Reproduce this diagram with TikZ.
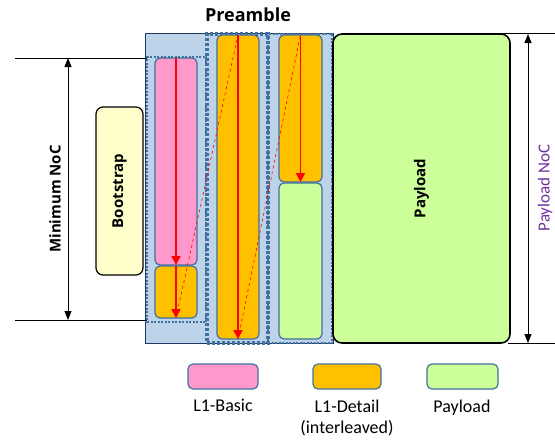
\documentclass[tikz,border=0pt]{standalone}
\usepackage{fontspec}
\setmainfont{Carlito}
\newfontfamily\boldf{Open Sans}
\usetikzlibrary{arrows.meta}
\definecolor{bgblue}{HTML}{BDD3EA}
\definecolor{navy}{HTML}{1F3864}
\definecolor{dashblue}{HTML}{41719C}
\definecolor{pinkc}{HTML}{FF99CC}
\definecolor{orangec}{HTML}{FFC000}
\definecolor{greenc}{HTML}{CCFF99}
\definecolor{yellowc}{HTML}{FFFFCC}
\definecolor{purplec}{HTML}{7030A0}
\tikzset{
  cell/.style={draw=dashblue, line width=1.2pt, rounded corners=5pt, inner sep=0pt, outer sep=0pt, anchor=north west},
  bigbox/.style={draw=black, line width=1.6pt, rounded corners=9pt, inner sep=0pt, outer sep=0pt, anchor=north west},
  flow/.style={draw=red, line width=1.8pt, -{Triangle[length=9pt,width=9pt]}},
  skip/.style={draw=red, line width=0.6pt, dashed},
  dim/.style={draw=black, line width=0.9pt, {Triangle[length=9pt,width=7pt]}-{Triangle[length=9pt,width=7pt]}},
  rule/.style={draw=black, line width=0.9pt},
  frame/.style={draw=dashblue, line width=1.6pt, dash pattern=on 2pt off 1.5pt},
  thickframe/.style={draw=dashblue, line width=3.2pt, dash pattern=on 3pt off 2pt},
  boldlabel/.style={font=\boldf\bfseries\fontsize{15}{17}\selectfont},
  legtext/.style={font=\fontsize{18}{21}\selectfont, align=center, anchor=north}
}
\begin{document}
\begin{tikzpicture}[x=1pt,y=-1pt]
\useasboundingbox (0,0) rectangle (555,442);
% preamble background
\node[draw=navy, fill=bgblue, line width=1pt, inner sep=0pt, outer sep=0pt, anchor=north west, minimum width=188pt, minimum height=310pt] (pre) at (145,33) {};
\node[font=\boldf\bfseries\fontsize{18}{20}\selectfont] (pretitle) at (248,15) {Preamble};
% frames
\node[frame, inner sep=0pt, outer sep=0pt, anchor=north west, minimum width=59pt, minimum height=265pt] (f1) at (147,57) {};
\node[thickframe, inner sep=0pt, outer sep=0pt, anchor=north west, minimum width=61pt, minimum height=309pt] (f2) at (207,34) {};
\node[frame, inner sep=0pt, outer sep=0pt, anchor=north west, minimum width=64pt, minimum height=309pt] (f3) at (268,34) {};
% cells
\node[cell, fill=pinkc, minimum width=42pt, minimum height=207pt] (pink) at (155,58) {};
\node[cell, fill=orangec, minimum width=42pt, minimum height=52pt] (o1) at (155,266) {};
\node[cell, fill=orangec, minimum width=42pt, minimum height=304pt] (o2) at (217,35) {};
\node[cell, fill=orangec, minimum width=43pt, minimum height=147pt] (o3) at (279,35) {};
\node[cell, fill=greenc, minimum width=43pt, minimum height=156pt] (g3) at (279,183) {};
% payload and bootstrap
\node[bigbox, fill=greenc, minimum width=177pt, minimum height=309pt] (pay) at (333,34) {};
\node[boldlabel, rotate=90] (paytext) at (pay.center) {Payload};
\node[bigbox, draw=black, line width=1.2pt, rounded corners=7pt, fill=yellowc, minimum width=47pt, minimum height=168pt] (boot) at (96,107) {};
\node[boldlabel, rotate=90] (boottext) at (boot.center) {Bootstrap};
% red flow arrows
\draw[flow] (pink.north) -- (pink.south);
\draw[flow] (o1.north) -- (o1.south);
\draw[flow] (o2.north) -- (o2.south);
\draw[flow] (o3.north) -- (o3.south);
\draw[skip] (o1.south) -- (o2.north);
\draw[skip] (o2.south) -- (o3.north);
% minimum NoC dimension
\coordinate (lt0) at (15,58);
\coordinate (lt1) at (147,58);
\coordinate (lb0) at (15,320);
\coordinate (lb1) at (147,320);
\coordinate (ma) at (68,58);
\coordinate (mb) at (68,320);
\draw[rule] (lt0) -- (lt1);
\draw[rule] (lb0) -- (lb1);
\draw[dim] (ma) -- (mb);
\node[boldlabel, rotate=90] (minlabel) at (55,199) {Minimum NoC};
% payload NoC dimension
\coordinate (rt0) at (397,33);
\coordinate (rt1) at (555,33);
\coordinate (rb0) at (508,343);
\coordinate (rb1) at (555,343);
\coordinate (pa) at (528,34);
\coordinate (pb) at (528,343);
\draw[rule] (rt0) -- (rt1);
\draw[rule] (rb0) -- (rb1);
\draw[dim] (pa) -- (pb);
\node[rotate=90, text=purplec, font=\fontsize{17}{19}\selectfont] (paynoc) at (545,188) {Payload NoC};
% legend
\node[cell, fill=pinkc, minimum width=70pt, minimum height=25pt] (lp) at (188,364) {};
\node[cell, fill=orangec, minimum width=68pt, minimum height=25pt] (lo) at (313,364) {};
\node[cell, fill=greenc, minimum width=71pt, minimum height=25pt] (lg) at (427,364) {};
\node[legtext] (lpt) at (223,396) {L1-Basic};
\node[legtext] (lot) at (347,396) {L1-Detail\\(interleaved)};
\node[legtext] (lgt) at (462,396) {Payload};
\end{tikzpicture}
\end{document}
